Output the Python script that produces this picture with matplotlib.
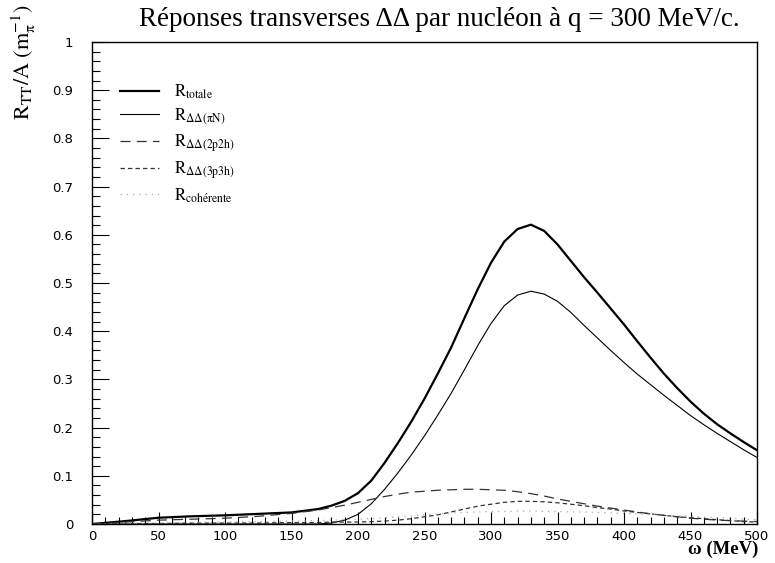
import numpy as np
import matplotlib
matplotlib.use('Agg')
import matplotlib.pyplot as plt
from matplotlib.ticker import MultipleLocator, FixedLocator, FixedFormatter

plt.rcParams['mathtext.fontset'] = 'stix'

# omega (MeV)
omega = [0, 25, 50, 75, 100, 125, 150,
         170, 180, 190, 200, 210, 220, 230, 240, 250, 260, 270, 280, 290, 300,
         310, 320, 330, 340, 350, 360, 370, 380, 390, 400, 410, 420, 430, 440,
         450, 460, 470, 480, 490, 500]

r_totale = [0, 0.006, 0.013, 0.016, 0.018, 0.021, 0.024,
            0.031, 0.038, 0.048, 0.064, 0.09, 0.127, 0.168, 0.212, 0.26, 0.312,
            0.366, 0.427, 0.487, 0.542, 0.586, 0.612, 0.621, 0.608, 0.58, 0.546,
            0.512, 0.48, 0.447, 0.414, 0.379, 0.345, 0.312, 0.282, 0.254, 0.229,
            0.207, 0.188, 0.17, 0.153]

r_pin = [0, 0, 0, 0, 0, 0, 0,
         0, 0.002, 0.008, 0.02, 0.042, 0.072, 0.106, 0.143, 0.183, 0.226, 0.271,
         0.32, 0.37, 0.416, 0.453, 0.475, 0.483, 0.477, 0.462, 0.439, 0.412,
         0.386, 0.36, 0.335, 0.311, 0.289, 0.267, 0.246, 0.225, 0.206, 0.188,
         0.171, 0.154, 0.138]

r_2p2h = [0, 0.004, 0.008, 0.01, 0.012, 0.016, 0.022,
          0.029, 0.034, 0.039, 0.045, 0.051, 0.057, 0.062, 0.066, 0.068, 0.07,
          0.071, 0.072, 0.072, 0.071, 0.07, 0.067, 0.063, 0.058, 0.052, 0.047,
          0.042, 0.037, 0.033, 0.029, 0.025, 0.021, 0.018, 0.015, 0.012, 0.01,
          0.008, 0.007, 0.006, 0.005]

r_3p3h = [0, 0.001, 0.001, 0.002, 0.002, 0.002, 0.003,
          0.003, 0.004, 0.004, 0.004, 0.005, 0.006, 0.008, 0.011, 0.015, 0.019,
          0.025, 0.031, 0.037, 0.041, 0.045, 0.047, 0.047, 0.046, 0.044, 0.041,
          0.038, 0.034, 0.031, 0.027, 0.024, 0.021, 0.018, 0.015, 0.013, 0.011,
          0.009, 0.007, 0.005, 0.004]

r_coh = [0, 0.001, 0.002, 0.003, 0.004, 0.005, 0.006,
         0.007, 0.008, 0.009, 0.01, 0.011, 0.013, 0.015, 0.017, 0.019, 0.021,
         0.023, 0.024, 0.025, 0.026, 0.026, 0.027, 0.027, 0.026, 0.026, 0.025,
         0.025, 0.024, 0.023, 0.022, 0.021, 0.02, 0.018, 0.017, 0.016, 0.014,
         0.013, 0.012, 0.01, 0.009]

labels = [r'$\mathrm{R_{totale}}$',
          r'$\mathrm{R_{\Delta\Delta(\pi N)}}$',
          r'$\mathrm{R_{\Delta\Delta(2p2h)}}$',
          r'$\mathrm{R_{\Delta\Delta(3p3h)}}$',
          r'$\mathrm{R_{coh\acute{e}rente}}$']

yticks = [0, 0.1, 0.2, 0.3, 0.4, 0.5, 0.6, 0.7, 0.8, 0.9, 1]
ytick_labels = ['0', '0.1', '0.2', '0.3', '0.4', '0.5', '0.6', '0.7', '0.8', '0.9', '1']

fig = plt.figure(figsize=(7.75, 5.63), dpi=100)
ax = fig.add_axes([92 / 775, 1 - 524 / 563, 665 / 775, 482 / 563])

ax.plot(omega, r_totale, color='black', lw=1.6, label=labels[0])
ax.plot(omega, r_pin, color='black', lw=0.8, label=labels[1])
ax.plot(omega, r_2p2h, color='#333333', lw=0.9, dashes=(8, 5), label=labels[2])
ax.plot(omega, r_3p3h, color='#333333', lw=0.9, dashes=(3.5, 2.5), label=labels[3])
ax.plot(omega, r_coh, color='#aaaaaa', lw=0.9, dashes=(1, 4), label=labels[4])

ax.set_xlim(0, 500)
ax.set_ylim(0, 1)
ax.xaxis.set_major_locator(MultipleLocator(50))
ax.xaxis.set_minor_locator(MultipleLocator(10))
ax.yaxis.set_major_locator(FixedLocator(yticks))
ax.yaxis.set_major_formatter(FixedFormatter(ytick_labels))
ax.yaxis.set_minor_locator(MultipleLocator(0.02))
ax.tick_params(which='both', direction='in', top=False, right=False,
               labelsize=9.5)
ax.tick_params(which='major', length=9, width=0.8)
ax.tick_params(which='minor', length=5, width=0.8)
ax.tick_params(axis='y', which='major', length=12, pad=13.5)
ax.tick_params(axis='y', which='minor', length=6)
ax.tick_params(axis='x', pad=4)
for sp in ax.spines.values():
    sp.set_linewidth(1.0)

leg = ax.legend(loc='upper left', bbox_to_anchor=(0.02, 0.947), frameon=False,
                fontsize=12, handlelength=2.35, handletextpad=0.85,
                labelspacing=0.32)

fig.text(0.567, 0.966, u'Réponses transverses ΔΔ par nucléon à q = 300 MeV/c.',
         ha='center', va='center', fontsize=19.5, family='Liberation Serif')
fig.text(0.031, 0.89, r'$\mathrm{R_{TT}/A\ (m_{\pi}^{-1})}$', rotation=90,
         ha='center', va='center', fontsize=16)
fig.text(0.979, 0.024, u'ω (MeV)', ha='right', va='center', fontsize=13.5,
         family='Liberation Serif', fontweight='bold')

fig.savefig('out.png', dpi=100)
